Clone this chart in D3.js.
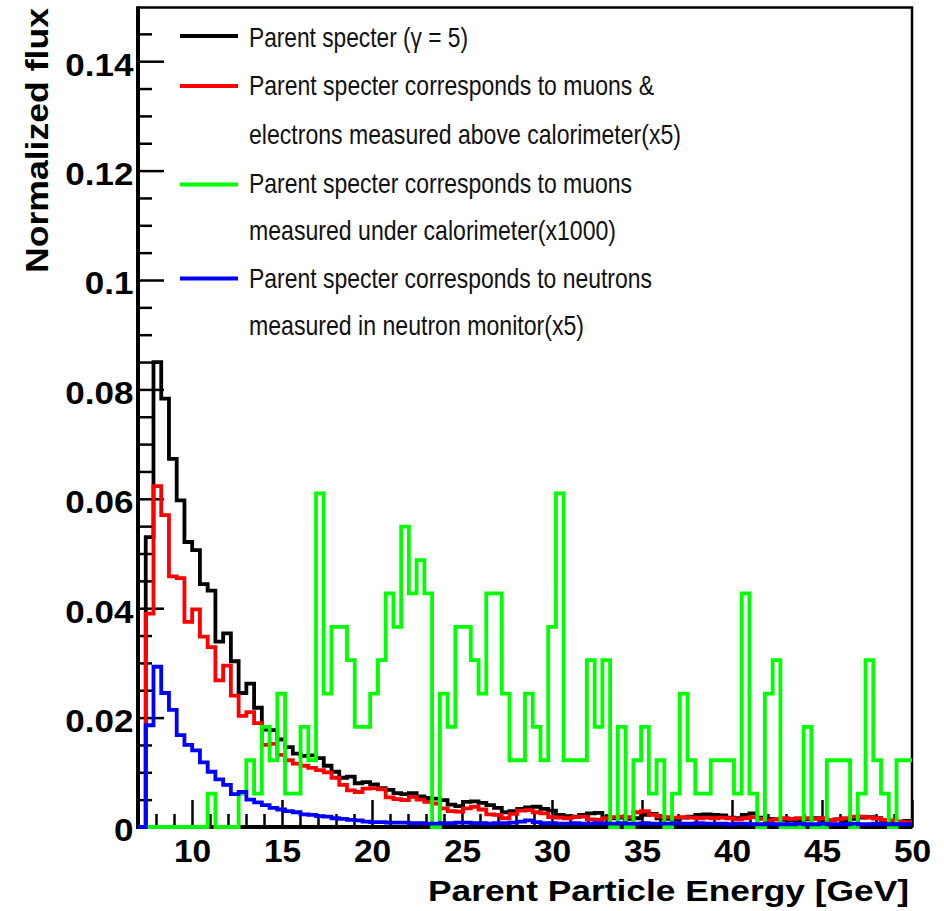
<!DOCTYPE html>
<html>
<head>
<meta charset="utf-8">
<script src="https://cdn.jsdelivr.net/npm/d3@7/dist/d3.min.js"></script>
<style>
  body { margin: 0; background: #fff; }
  svg { display: block; font-family: "Liberation Sans", Arial, Helvetica, sans-serif; }
</style>
</head>
<body>
<div id="chart"></div>
<script>
// histogram: 100 bins from 7 to 50 GeV
const binLow = 7, binHigh = 50, nBins = 100;

const parentFlux = [
  0, 0.0530, 0.0850, 0.0783, 0.0673, 0.0597, 0.0521, 0.0506, 0.0444, 0.0432,
  0.0339, 0.0354, 0.0303, 0.0245, 0.0262, 0.0218, 0.0178, 0.0177, 0.0160, 0.0146,
  0.0134, 0.0130, 0.0131, 0.0126, 0.0112, 0.0101, 0.0090, 0.0092, 0.0080, 0.0082,
  0.0078, 0.0071, 0.0068, 0.0062, 0.0060, 0.0062, 0.0056, 0.0053, 0.0052, 0.0049,
  0.0041, 0.0038, 0.0046, 0.0047, 0.0044, 0.0040, 0.0035, 0.0027, 0.0029, 0.0033,
  0.0036, 0.0037, 0.0033, 0.0030, 0.0022, 0.0020, 0.0019, 0.0022, 0.0025, 0.0026,
  0.0018, 0.0016, 0.0017, 0.0015, 0.0016, 0.0022, 0.0024, 0.0016, 0.0015, 0.0014,
  0.0017, 0.0019, 0.0022, 0.0023, 0.0022, 0.0021, 0.0017, 0.0016, 0.0022, 0.0025,
  0.0017, 0.0015, 0.0014, 0.0013, 0.0012, 0.0011, 0.0014, 0.0016, 0.0013, 0.0012,
  0.0014, 0.0010, 0.0015, 0.0017, 0.0018, 0.0016, 0.0010, 0.0009, 0.0010, 0.0011
];

const muonElectronFlux = [
  0, 0.0390, 0.0623, 0.0570, 0.0458, 0.0455, 0.0375, 0.0398, 0.0348, 0.0329,
  0.0268, 0.0295, 0.0240, 0.0203, 0.0210, 0.0190, 0.0150, 0.0152, 0.0132, 0.0122,
  0.0116, 0.0112, 0.0108, 0.0104, 0.0100, 0.0090, 0.0077, 0.0067, 0.0064, 0.0070,
  0.0071, 0.0069, 0.0054, 0.0051, 0.0049, 0.0055, 0.0050, 0.0046, 0.0043, 0.0034,
  0.0029, 0.0028, 0.0034, 0.0037, 0.0032, 0.0023, 0.0022, 0.0016, 0.0024, 0.0030,
  0.0031, 0.0027, 0.0025, 0.0018, 0.0017, 0.0016, 0.0018, 0.0019, 0.0014, 0.0013,
  0.0016, 0.0018, 0.0019, 0.0018, 0.0027, 0.0029, 0.0022, 0.0019, 0.0018, 0.0017,
  0.0018, 0.0017, 0.0016, 0.0017, 0.0016, 0.0017, 0.0016, 0.0014, 0.0016, 0.0018,
  0.0015, 0.0012, 0.0014, 0.0016, 0.0015, 0.0016, 0.0016, 0.0015, 0.0016, 0.0012,
  0.0014, 0.0016, 0.0019, 0.0019, 0.0017, 0.0016, 0.0013, 0.0012, 0.0010, 0.0009
];

const muonUnderFlux = [
  0, 0, 0, 0, 0, 0, 0, 0, 0, 0.0061,
  0, 0, 0, 0.0061, 0.0122, 0.0061, 0.0183, 0.0122, 0.0244, 0.0061,
  0.0061, 0.0183, 0.0122, 0.0610, 0.0244, 0.0366, 0.0366, 0.0305, 0.0183, 0.0183,
  0.0244, 0.0305, 0.0427, 0.0366, 0.0549, 0.0427, 0.0488, 0.0427, 0, 0.0244,
  0.0183, 0.0366, 0.0366, 0.0305, 0.0244, 0.0427, 0.0427, 0.0244, 0.0122, 0.0122,
  0.0244, 0.0183, 0.0122, 0.0366, 0.0610, 0.0122, 0.0122, 0.0122, 0.0305, 0.0183,
  0.0305, 0, 0.0183, 0, 0.0122, 0.0183, 0.0061, 0.0122, 0, 0.0061,
  0.0244, 0.0122, 0.0061, 0.0061, 0.0122, 0.0122, 0.0122, 0.0061, 0.0427, 0.0061,
  0, 0.0244, 0.0305, 0, 0, 0, 0.0183, 0, 0, 0.0122,
  0.0122, 0.0122, 0, 0.0061, 0.0305, 0.0122, 0.0061, 0, 0.0122, 0.0122
];

const neutronFlux = [
  0, 0.0186, 0.0293, 0.0245, 0.0214, 0.0168, 0.0150, 0.0140, 0.0118, 0.0101,
  0.0087, 0.0077, 0.0060, 0.0064, 0.0050, 0.0045, 0.0040, 0.0035, 0.0032, 0.0029,
  0.0027, 0.0023, 0.0022, 0.0020, 0.0019, 0.0016, 0.0015, 0.0013, 0.0012, 0.0010,
  0.0009, 0.0009, 0.0008, 0.0008, 0.0008, 0.0007, 0.0007, 0.0006, 0.0006, 0.0007,
  0.0007, 0.0008, 0.0008, 0.0007, 0.0007, 0.0006, 0.0007, 0.0007, 0.0008, 0.0010,
  0.0012, 0.0009, 0.0007, 0.0007, 0.0006, 0.0006, 0.0007, 0.0006, 0.0006, 0.0007,
  0.0006, 0.0006, 0.0007, 0.0006, 0.0006, 0.0007, 0.0006, 0.0006, 0.0006, 0.0007,
  0.0006, 0.0006, 0.0007, 0.0006, 0.0006, 0.0006, 0.0005, 0.0006, 0.0006, 0.0005,
  0.0005, 0.0006, 0.0005, 0.0005, 0.0005, 0.0006, 0.0005, 0.0005, 0.0006, 0.0005,
  0.0005, 0.0005, 0.0006, 0.0005, 0.0005, 0.0006, 0.0005, 0.0005, 0.0005, 0.0005
];

const yTicks = [0, 0.02, 0.04, 0.06, 0.08, 0.1, 0.12, 0.14];
const yTickLabels = ["0", "0.02", "0.04", "0.06", "0.08", "0.1", "0.12", "0.14"];
const xTicks = [10, 15, 20, 25, 30, 35, 40, 45, 50];

const seriesNames = [
  ["Parent specter (\u03b3 = 5)"],
  ["Parent specter corresponds to muons &", "electrons measured above calorimeter(x5)"],
  ["Parent specter corresponds to muons", "measured under calorimeter(x1000)"],
  ["Parent specter corresponds to neutrons", "measured in neutron monitor(x5)"]
];
const seriesColors = ["#000000", "#ff0000", "#00ff00", "#0000ff"];
const seriesValues = [parentFlux, muonElectronFlux, muonUnderFlux, neutronFlux];

const width = 944, height = 911;
const plot = { left: 138, right: 912, top: 6.5, bottom: 827 };

const svg = d3.select("#chart").append("svg")
  .attr("width", width)
  .attr("height", height);

const x = d3.scaleLinear().domain([binLow, binHigh]).range([plot.left, plot.right]);
const y = d3.scaleLinear().domain([0, 0.15]).range([plot.bottom, plot.top]);

const binWidth = (binHigh - binLow) / nBins;
const edges = d3.range(nBins + 1).map((i) => binLow + i * binWidth);

// frame
svg.append("rect")
  .attr("x", plot.left).attr("y", y(0.15) + 1)
  .attr("width", plot.right - plot.left).attr("height", plot.bottom - y(0.15) - 1)
  .attr("fill", "none").attr("stroke", "#000").attr("stroke-width", 2.5);

// y axis: major + minor ticks pointing inward
const yAxis = svg.append("g")
  .attr("transform", "translate(" + plot.left + ",0)")
  .call(d3.axisLeft(y).tickValues(yTicks).tickSizeInner(-26).tickSizeOuter(0).tickPadding(4)
    .tickFormat((d, i) => yTickLabels[i]));
yAxis.select(".domain").remove();
yAxis.selectAll("line").attr("stroke-width", 2.5);
yAxis.selectAll("text")
  .attr("font-size", 31).attr("font-weight", "bold")
  .attr("font-family", "'Liberation Sans', Arial, sans-serif")
  .attr("fill", "#000")
  .attr("dy", "0.45em")
  .attr("transform", "scale(1.13,1)");

const yMinor = d3.range(0.005, 0.15, 0.005).filter((v) => Math.abs(v / 0.02 - Math.round(v / 0.02)) > 1e-6);
const yAxisMinor = svg.append("g")
  .attr("transform", "translate(" + plot.left + ",0)")
  .call(d3.axisLeft(y).tickValues(yMinor).tickSizeInner(-14).tickSizeOuter(0).tickFormat(""));
yAxisMinor.select(".domain").remove();
yAxisMinor.selectAll("line").attr("stroke-width", 2.5);

// x axis
const xAxis = svg.append("g")
  .attr("transform", "translate(0," + plot.bottom + ")")
  .call(d3.axisBottom(x).tickValues(xTicks).tickSizeInner(-27).tickSizeOuter(0).tickPadding(13)
    .tickFormat(d3.format("d")));
xAxis.select(".domain").remove();
xAxis.selectAll("line").attr("stroke-width", 2.5);
xAxis.selectAll("text")
  .attr("font-size", 31).attr("font-weight", "bold")
  .attr("font-family", "'Liberation Sans', Arial, sans-serif")
  .attr("fill", "#000")
  .attr("transform", "scale(1.08,1)");

const xMinor = d3.range(8, 50, 1).filter((v) => v % 5 !== 0);
const xAxisMinor = svg.append("g")
  .attr("transform", "translate(0," + plot.bottom + ")")
  .call(d3.axisBottom(x).tickValues(xMinor).tickSizeInner(-13).tickSizeOuter(0).tickFormat(""));
xAxisMinor.select(".domain").remove();
xAxisMinor.selectAll("line").attr("stroke-width", 2.5);

// axis lines
svg.append("line")
  .attr("x1", plot.left).attr("x2", plot.left)
  .attr("y1", y(0.15)).attr("y2", plot.bottom + 2)
  .attr("stroke", "#000").attr("stroke-width", 4);
svg.append("line")
  .attr("x1", plot.left - 2).attr("x2", plot.right)
  .attr("y1", plot.bottom).attr("y2", plot.bottom)
  .attr("stroke", "#000").attr("stroke-width", 4);

// histograms, drawn in ROOT order so blue ends on top
const line = d3.line()
  .x((d) => x(d[0]))
  .y((d) => y(d[1]))
  .curve(d3.curveStepAfter);

seriesValues.forEach((vals, s) => {
  const pts = edges.map((e, i) => [e, vals[Math.min(i, nBins - 1)]]);
  svg.append("path")
    .datum(pts)
    .attr("d", line)
    .attr("fill", "none")
    .attr("stroke", seriesColors[s])
    .attr("stroke-width", 3.8)
    .attr("stroke-linejoin", "miter");
});

// axis titles
svg.append("text")
  .attr("x", 428).attr("y", 901)
  .attr("font-size", 29).attr("font-weight", "bold")
  .attr("textLength", 481).attr("lengthAdjust", "spacingAndGlyphs")
  .text("Parent Particle Energy [GeV]");

svg.append("text")
  .attr("transform", "translate(48,273) rotate(-90)")
  .attr("font-size", 32).attr("font-weight", "bold")
  .attr("textLength", 265).attr("lengthAdjust", "spacingAndGlyphs")
  .text("Normalized flux");

// legend
const legendSampleY = [36, 86, 184.5, 278.5];
const legendBaselines = [[46.7], [95, 144], [193.3, 239.5], [288.3, 335]];
const legendWidths = [[219], [405, 432], [383, 367], [403, 335]];
const legend = svg.append("g").attr("class", "legend");
seriesNames.forEach((lines, s) => {
  legend.append("line")
    .attr("x1", 180).attr("x2", 238)
    .attr("y1", legendSampleY[s]).attr("y2", legendSampleY[s])
    .attr("stroke", seriesColors[s]).attr("stroke-width", 4);
  lines.forEach((t, j) => {
    legend.append("text")
      .attr("x", 249).attr("y", legendBaselines[s][j])
      .attr("font-size", 28)
      .attr("fill", "#111")
      .attr("textLength", legendWidths[s][j]).attr("lengthAdjust", "spacingAndGlyphs")
      .text(t);
  });
});
</script>
</body>
</html>
